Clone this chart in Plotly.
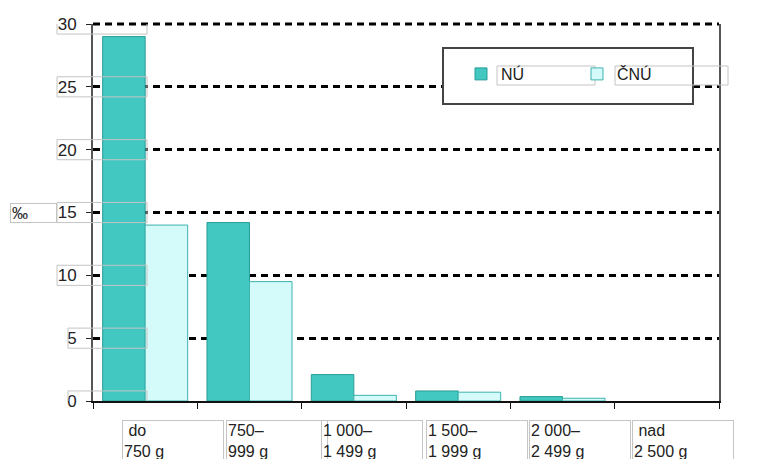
import plotly.graph_objects as go

# Birth-weight categories and rates (per mille) for the two groups
categories = ["do 750 g", "750–999 g", "1 000–1 499 g", "1 500–1 999 g", "2 000–2 499 g", "nad 2 500 g"]
category_lines = [["\u00a0do", "750 g"], ["750–", "999 g"], ["1 000–", "1 499 g"],
                  ["1 500–", "1 999 g"], ["2 000–", "2 499 g"], ["\u00a0nad", "2 500 g"]]
nu_values = [29.0, 14.2, 2.1, 0.8, 0.35, None]
cnu_values = [14.0, 9.5, 0.45, 0.7, 0.22, None]
y_ticks = [0, 5, 10, 15, 20, 25, 30]
series_names = ["NÚ", "ČNÚ"]

FONT = "Liberation Sans, Arial, sans-serif"
TEXT = "#222222"
BOX = "#c4c4c4"
GRID_DASH = "7px,5px"

# plot-area geometry in pixels (for decorative label boxes)
L, R, T, B = 93, 42, 24, 58
W, H = 761, 459
PW = W - L - R
PH = H - T - B


def px_to_paper_x(px):
    return (px - L) / PW


def px_to_paper_y(py):
    return (H - B - py) / PH


fig = go.Figure()
fig.add_trace(go.Bar(
    x=categories, y=nu_values, name=series_names[0],
    marker=dict(color="#42c8c1", line=dict(color="#2a9c97", width=1)),
))
fig.add_trace(go.Bar(
    x=categories, y=cnu_values, name=series_names[1],
    marker=dict(color="#d4fbfa", line=dict(color="#3db2ae", width=1)),
))

shapes = []
annotations = []

# dashed line along the top edge of the plot
shapes.append(dict(type="line", xref="paper", yref="paper", x0=0, x1=1, y0=1, y1=1,
                   line=dict(color="black", width=3, dash=GRID_DASH), layer="below"))

# light boxes around the y tick labels
for v in y_ticks:
    left_px = 57 if len(str(v)) > 1 else 68
    shapes.append(dict(type="rect", xref="paper", yref="y",
                       x0=px_to_paper_x(left_px), x1=px_to_paper_x(147),
                       y0=v - 0.8, y1=v + 0.8,
                       line=dict(color=BOX, width=1), fillcolor="rgba(0,0,0,0)",
                       layer="above"))

# unit label on the left
annotations.append(dict(text="‰", xref="paper", yref="y", x=px_to_paper_x(10), y=15,
                        xanchor="left", yanchor="middle", showarrow=False,
                        font=dict(family=FONT, size=16, color=TEXT),
                        width=43, height=16, align="left", borderpad=1,
                        bordercolor=BOX, borderwidth=1))

# two-line category labels in boxes under the axis
label_shift = [-0.22, -0.23, -0.31, -0.31, -0.32, -0.33]
for i, lines in enumerate(category_lines):
    annotations.append(dict(text="<br>".join(lines), xref="x", yref="paper",
                            x=i + label_shift[i], y=px_to_paper_y(420),
                            xanchor="left", yanchor="top", showarrow=False,
                            font=dict(family=FONT, size=16, color=TEXT),
                            width=98, height=60, align="left", valign="top",
                            borderpad=1, bordercolor=BOX, borderwidth=1))

# legend frame and text boxes
shapes.append(dict(type="rect", xref="paper", yref="paper",
                   x0=px_to_paper_x(443), x1=px_to_paper_x(693),
                   y0=px_to_paper_y(104), y1=px_to_paper_y(48),
                   line=dict(color="#444444", width=2), fillcolor="white", layer="above"))
for x0, x1 in [(497, 595), (615, 728)]:
    shapes.append(dict(type="rect", xref="paper", yref="paper",
                       x0=px_to_paper_x(x0), x1=px_to_paper_x(x1),
                       y0=px_to_paper_y(85), y1=px_to_paper_y(66),
                       line=dict(color=BOX, width=1), fillcolor="rgba(0,0,0,0)",
                       layer="above"))

fig.update_layout(
    width=W, height=H,
    margin=dict(l=L, r=R, t=T, b=B, pad=0),
    paper_bgcolor="white", plot_bgcolor="white",
    barmode="group", bargap=0.185, bargroupgap=0,
    font=dict(family=FONT, size=16, color=TEXT),
    showlegend=True,
    legend=dict(orientation="h", x=px_to_paper_x(461), y=px_to_paper_y(74),
                xanchor="left", yanchor="middle", bgcolor="rgba(0,0,0,0)",
                borderwidth=0, entrywidth=71, font=dict(family=FONT, size=16, color=TEXT)),
    shapes=shapes,
    annotations=annotations,
)

fig.update_xaxes(
    type="category", range=[-0.5, len(categories) - 0.5],
    showticklabels=False, ticks="outside", tickson="boundaries",
    ticklen=6, tickcolor="#111111", tickwidth=1,
    showline=True, linecolor="#111111", linewidth=2, showgrid=False,
)
fig.update_yaxes(
    range=[0, 30], tickvals=y_ticks, ticks="outside", ticklen=5, tickcolor="#222222",
    tickfont=dict(family=FONT, size=17, color=TEXT), ticklabelstandoff=6,
    showline=True, mirror=True, linecolor="#555555", linewidth=2,
    showgrid=True, gridcolor="black", gridwidth=3, griddash=GRID_DASH,
    zeroline=False,
)

fig.write_html("out.html")
